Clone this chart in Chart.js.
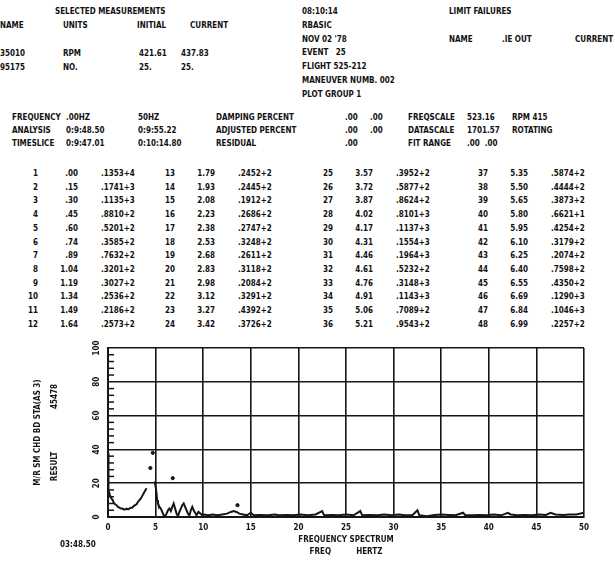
<!DOCTYPE html>
<html>
<head>
<meta charset="utf-8">
<script src="https://cdn.jsdelivr.net/npm/chart.js@4.4.1/dist/chart.umd.min.js"></script>
<style>
  html, body { margin: 0; padding: 0; background: #fff; }
  #page { position: relative; width: 615px; height: 563px; overflow: hidden;
          font: bold 8px "DejaVu Sans Condensed", "DejaVu Sans", sans-serif; color: #111; }
  .t { position: absolute; white-space: pre; line-height: 10px; }
  #plot { position: absolute; left: 0; top: 330px; width: 615px; height: 233px; }
</style>
</head>
<body>
<div id="page">
  <div id="plot"><canvas id="c"></canvas></div>
</div>
<script>
// selected measurements block
const measureNames = ['35010', '95175']
const measureUnits = ['RPM', 'NO.']
const measureInitial = ['421.61', '25.']
const measureCurrent = ['437.83', '25.']

// run info
const runInfo = ['08:10:14', 'RBASIC', "NOV 02 '78", 'EVENT   25', 'FLIGHT 525-212', 'MANEUVER NUMB. 002', 'PLOT GROUP 1']

// spectral line table (4 groups of 12)
const lineIndex = [
  '1', '2', '3', '4', '5', '6', '7', '8', '9', '10', '11', '12',
  '13', '14', '15', '16', '17', '18', '19', '20', '21', '22', '23', '24',
  '25', '26', '27', '28', '29', '30', '31', '32', '33', '34', '35', '36',
  '37', '38', '39', '40', '41', '42', '43', '44', '45', '46', '47', '48'
]
const lineFreq = [
  '.00', '.15', '.30', '.45', '.60', '.74', '.89', '1.04', '1.19', '1.34', '1.49', '1.64',
  '1.79', '1.93', '2.08', '2.23', '2.38', '2.53', '2.68', '2.83', '2.98', '3.12', '3.27', '3.42',
  '3.57', '3.72', '3.87', '4.02', '4.17', '4.31', '4.46', '4.61', '4.76', '4.91', '5.06', '5.21',
  '5.35', '5.50', '5.65', '5.80', '5.95', '6.10', '6.25', '6.40', '6.55', '6.69', '6.84', '6.99'
]
const lineValue = [
  '.1353+4', '.1741+3', '.1135+3', '.8810+2', '.5201+2', '.3585+2', '.7632+2', '.3201+2', '.3027+2', '.2536+2', '.2186+2', '.2573+2',
  '.2452+2', '.2445+2', '.1912+2', '.2686+2', '.2747+2', '.3248+2', '.2611+2', '.3118+2', '.2084+2', '.3291+2', '.4392+2', '.3726+2',
  '.3952+2', '.5877+2', '.8624+2', '.8101+3', '.1137+3', '.1554+3', '.1964+3', '.5232+2', '.3148+3', '.1143+3', '.7089+2', '.9543+2',
  '.5874+2', '.4444+2', '.3873+2', '.6621+1', '.4254+2', '.3179+2', '.2074+2', '.7598+2', '.4350+2', '.1290+3', '.1046+3', '.2257+2'
]

// frequency spectrum (Hz, result); null breaks the trace
const specFreq = [
  0.0, 0.0, 0.05, 0.1, 0.2, 0.35, 0.5, 0.6, 0.75, 0.9, 1.05, 1.2, 1.35, 1.5, 1.65, 1.8, 1.95, 2.1, 2.25, 2.4,
  2.55, 2.7, 2.85, 3.0, 3.15, 3.3, 3.45, 3.6, 3.75, 3.9, 4.05, 4.3,
  4.9, 5.0, 5.1, 5.15, 5.25, 5.4, 5.55, 5.7, 5.85, 6.0, 6.15, 6.3, 6.45, 6.6, 6.75, 6.9, 7.05, 7.2, 7.35,
  7.5, 7.65, 7.8, 7.95, 8.1, 8.25, 8.4, 8.55, 8.7, 8.85, 9.0, 9.15, 9.3, 9.5, 9.7, 9.9, 10.1, 10.5,
  11.0, 11.5, 12.0, 12.5, 12.9, 13.2, 13.5, 13.8, 14.2, 14.6, 15.0, 15.3, 16.0, 16.8, 17.5, 18.0, 18.8,
  19.5, 20.2, 21.0, 21.8, 22.5, 22.7, 23.5, 24.2, 25.0, 25.8, 26.5, 26.7, 27.5, 28.3, 29.0, 29.8, 30.5,
  31.2, 32.0, 32.5, 32.7, 33.5, 34.3, 35.0, 35.8, 36.5, 37.3, 37.5, 38.3, 39.0, 39.8, 40.5, 41.3, 42.0,
  42.3, 43.0, 43.8, 44.5, 45.3, 46.0, 46.5, 47.0, 47.8, 48.5, 49.2, 50.0
]
const specResult = [
  38, 30, 22, 16, 13, 11, 10, 8.5, 7.5, 7, 6, 5.5, 5, 5, 4.5, 4.5, 5, 4.5, 5, 5.5,
  5.5, 6.5, 7, 7.5, 9, 10, 11, 12.5, 14, 15.5, 17, null,
  21, 18, 14, 10, 8, 6, 5, 3, 1, 0.5, 2, 4, 5, 3.5, 6, 8, 5, 2, 0.5,
  3, 5, 7, 8, 6, 4, 2, 1, 4, 6, 4, 2.5, 1, 3, 2, 1, 1.5, 1,
  1.5, 1, 1.5, 2, 3, 3.5, 3, 2, 1.5, 1, 2.5, 1, 1.2, 1, 1.5, 1, 1.2,
  1, 1.5, 1, 1.5, 3.5, 1, 1.2, 1, 1.5, 1, 3.5, 1, 1.2, 1, 1.5, 1, 1.5,
  1, 1.2, 4, 1, 0.5, 1.2, 1.5, 1.2, 1, 2.5, 1.2, 1, 1.2, 1, 1.5, 1, 2.5,
  1.5, 1, 1.2, 1, 1.5, 1.2, 2.5, 1.5, 1.2, 1.5, 1.5, 2.5
]
const dotFreq = [4.45, 4.7, 6.8, 13.6]
const dotResult = [29, 38, 23, 7]

const freqTicks = [0, 5, 10, 15, 20, 25, 30, 35, 40, 45, 50]

// ---- text block ----
const page = document.getElementById('page')
function put (text, x, y, align) {
  const d = document.createElement('div')
  d.className = 't'
  d.textContent = text
  d.style.left = x + 'px'
  d.style.top = (y - 5) + 'px'
  if (align === 'right') d.style.transform = 'translateX(-100%)'
  page.appendChild(d)
}

put('SELECTED MEASUREMENTS', 55, 12)
put('NAME', 0, 26)
put('UNITS', 63, 26)
put('INITIAL', 137, 26)
put('CURRENT', 190, 26)
measureNames.forEach((n, i) => {
  const y = 54 + i * 13.5
  put(n, 0, y)
  put(measureUnits[i], 63, y)
  put(measureInitial[i], 139, y)
  put(measureCurrent[i], 181, y)
})
runInfo.forEach((s, i) => put(s, 302, 12 + i * 13.8))
put('LIMIT FAILURES', 449, 12)
put('NAME', 449, 40)
put('.IE OUT', 502, 40)
put('CURRENT', 575, 40)

const paramRows = [
  ['FREQUENCY', '.00HZ', '50HZ', 'DAMPING PERCENT', '.00', '.00', 'FREQSCALE', '523.16', 'RPM 415'],
  ['ANALYSIS', '0:9:48.50', '0:9:55.22', 'ADJUSTED PERCENT', '.00', '.00', 'DATASCALE', '1701.57', 'ROTATING'],
  ['TIMESLICE', '0:9:47.01', '0:10:14.80', 'RESIDUAL', '.00', '', 'FIT RANGE', '.00  .00', '']
]
const paramX = [12, 66, 138, 216, 345, 370, 408, 467, 512]
paramRows.forEach((row, r) => {
  row.forEach((s, c) => { if (s) put(s, paramX[c], 118 + r * 13) })
})

const groupX = [38, 175, 333, 488]
lineValue.forEach((v, i) => {
  const g = Math.floor(i / 12)
  const y = 174 + (i % 12) * 13.7
  put(lineIndex[i], groupX[g], y, 'right')
  put(lineFreq[i], groupX[g] + 40, y, 'right')
  put(v, groupX[g] + 63, y)
})

put('03:48.50', 60, 545)

// ---- plot ----
const font = { family: "'DejaVu Sans Condensed', 'DejaVu Sans', sans-serif", size: 8, weight: 'bold' }
const ink = '#161616'

const minorTicks = {
  id: 'minorTicks',
  afterDatasetsDraw (chart) {
    const y = chart.scales.y
    const left = chart.chartArea.left
    const ctx = chart.ctx
    ctx.save()
    ctx.strokeStyle = ink
    ctx.lineWidth = 1.5
    y.ticks.forEach(t => {
      if (t.value % 20 === 0) return
      const py = y.getPixelForValue(t.value)
      ctx.beginPath()
      ctx.moveTo(left, py)
      ctx.lineTo(left + 6, py)
      ctx.stroke()
    })
    ctx.restore()
  }
}

new Chart(document.getElementById('c'), {
  type: 'line',
  data: {
    datasets: [
      {
        data: specFreq.map((f, i) => ({ x: f, y: specResult[i] })),
        borderColor: ink,
        borderWidth: 2,
        pointRadius: 0,
        tension: 0,
        spanGaps: false
      },
      {
        type: 'scatter',
        data: dotFreq.map((f, i) => ({ x: f, y: dotResult[i] })),
        backgroundColor: ink,
        borderColor: ink,
        pointRadius: 1.6
      }
    ]
  },
  options: {
    responsive: true,
    maintainAspectRatio: false,
    animation: false,
    layout: { padding: { top: 18, right: 31, left: 0, bottom: 0 } },
    plugins: { legend: { display: false }, tooltip: { enabled: false } },
    scales: {
      x: {
        type: 'linear',
        min: 0,
        max: 50,
        afterBuildTicks: scale => { scale.ticks = freqTicks.map(v => ({ value: v })) },
        afterFit: scale => { scale.height = 46 },
        grid: { color: ink, lineWidth: 1.6, drawTicks: false },
        border: { color: ink, width: 2 },
        ticks: { font, color: ink, padding: 6, maxRotation: 0, autoSkip: false },
        title: {
          display: true,
          text: ['FREQUENCY SPECTRUM', 'FREQ          HERTZ'],
          font: { ...font, lineHeight: 12 / 8 },
          color: ink,
          padding: { top: 0, bottom: 5 }
        }
      },
      y: {
        min: 0,
        max: 100,
        afterFit: scale => { scale.width = 108 },
        grid: {
          color: ctx => (ctx.tick && ctx.tick.value % 20 === 0) ? ink : 'rgba(0,0,0,0)',
          lineWidth: 1.6,
          drawTicks: false
        },
        border: { color: ink, width: 2 },
        ticks: {
          stepSize: 4,
          autoSkip: false,
          font,
          color: ink,
          padding: 4,
          minRotation: 90,
          maxRotation: 90,
          crossAlign: 'center',
          callback: v => (v % 20 === 0 ? String(v) : '')
        },
        title: {
          display: true,
          text: ['M/R SM CHD BD STA(AS 3)', 'RESULT                 45478'],
          font: { ...font, lineHeight: 17 / 8 },
          color: ink,
          padding: { top: 29, bottom: 0 }
        }
      }
    }
  },
  plugins: [minorTicks]
})
</script>
</body>
</html>
